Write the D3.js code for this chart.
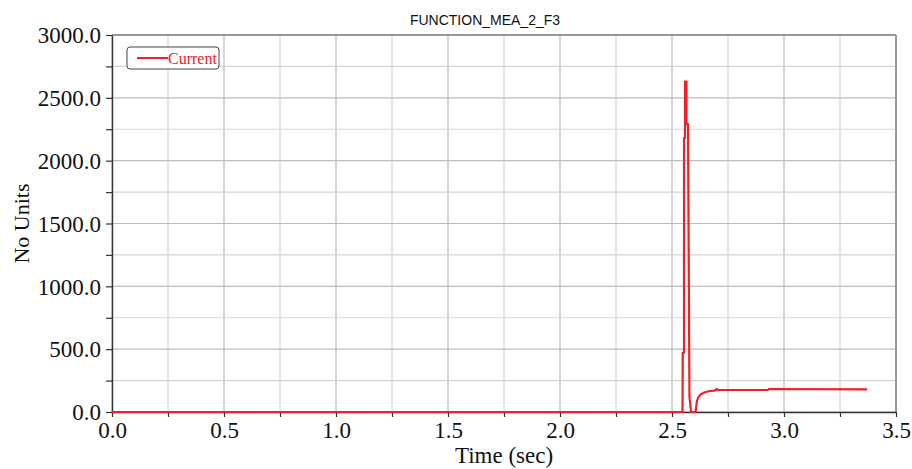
<!DOCTYPE html>
<html>
<head>
<meta charset="utf-8">
<script src="https://cdn.jsdelivr.net/npm/d3@7"></script>
<style>
body { margin: 0; background: #fff; }
svg { display: block; }
</style>
</head>
<body>
<div id="chart"></div>
<script>
// data
const timeVals = [0, 2.547, 2.548, 2.5536, 2.5537, 2.558, 2.5581, 2.5647, 2.5648, 2.5714, 2.578, 2.585, 2.605,
                  2.608, 2.6116, 2.619, 2.629, 2.647, 2.669, 2.69, 2.701, 2.703, 2.929, 2.932, 3.371];
const currentVals = [0, 0, 470, 470, 2180, 2180, 2630, 2630, 2290, 2290, 120, 0, 0,
                     40, 90, 122, 141, 157, 167, 170, 183, 175, 175, 183, 180];
const xTicks = [0, 0.5, 1.0, 1.5, 2.0, 2.5, 3.0, 3.5];
const yTicks = [0, 500, 1000, 1500, 2000, 2500, 3000];
const seriesName = "Current";
const chartTitle = "FUNCTION_MEA_2_F3";

const width = 912, height = 469;
const margin = {top: 35, right: 16, bottom: 57, left: 112};

const svg = d3.select("#chart").append("svg")
    .attr("width", width).attr("height", height);

const x = d3.scaleLinear().domain([0, 3.5]).range([margin.left, width - margin.right]);
const y = d3.scaleLinear().domain([0, 3000]).range([height - margin.bottom, margin.top]);

const serif = "'Liberation Serif', 'Times New Roman', serif";

// grid
const minorX = d3.range(0, 3.5001, 0.25);
const minorY = d3.range(0, 3000.1, 250);
svg.append("g").selectAll("line").data(minorX).enter().append("line")
    .attr("x1", d => x(d)).attr("x2", d => x(d))
    .attr("y1", y(0)).attr("y2", y(3000))
    .attr("stroke", (d, i) => i % 2 ? "#d4d4d4" : "#bdbdbd").attr("stroke-width", 1.2);
svg.append("g").selectAll("line").data(minorY).enter().append("line")
    .attr("x1", x(0)).attr("x2", x(3.5))
    .attr("y1", d => y(d)).attr("y2", d => y(d))
    .attr("stroke", (d, i) => i % 2 ? "#d4d4d4" : "#bdbdbd").attr("stroke-width", 1.2);

// frame
svg.append("line").attr("x1", x(0)).attr("x2", x(3.5)).attr("y1", y(3000)).attr("y2", y(3000))
    .attr("stroke", "#555").attr("stroke-width", 1.2);
svg.append("line").attr("x1", x(3.5)).attr("x2", x(3.5)).attr("y1", y(3000)).attr("y2", y(0))
    .attr("stroke", "#999").attr("stroke-width", 2);

// axes
const xAxis = svg.append("g").attr("transform", "translate(0," + y(0) + ")")
    .call(d3.axisBottom(x).tickValues(minorX).tickSize(5).tickSizeOuter(0)
        .tickFormat(d => xTicks.some(t => Math.abs(t - d) < 1e-9) ? d.toFixed(1) : ""));
const yAxis = svg.append("g").attr("transform", "translate(" + x(0) + ",0)")
    .call(d3.axisLeft(y).tickValues(minorY).tickSize(6).tickSizeOuter(0)
        .tickFormat(d => yTicks.includes(d) ? d.toFixed(1) : ""));
[xAxis, yAxis].forEach(a => {
    a.select(".domain").attr("stroke", "#333").attr("stroke-width", 1.4);
    a.selectAll(".tick line").attr("stroke", "#333").attr("stroke-width", 1.2);
    a.selectAll(".tick text").attr("font-family", serif).attr("font-size", "23px").attr("fill", "#111");
});
xAxis.selectAll(".tick text").attr("dy", "0.95em").attr("y", 4);
yAxis.selectAll(".tick text").attr("x", -11).attr("dy", "0.34em");

// series
const line = d3.line().x((d, i) => x(timeVals[i])).y(d => y(d));
svg.append("path").datum(currentVals)
    .attr("d", line).attr("fill", "none")
    .attr("stroke", "#ee2226").attr("stroke-width", 2.2).attr("stroke-linejoin", "round");

// titles
svg.append("text").attr("x", 485).attr("y", 25).attr("text-anchor", "middle")
    .attr("font-family", "'Liberation Sans', Arial, sans-serif").attr("font-size", "14px").attr("fill", "#111")
    .text(chartTitle);
svg.append("text").attr("x", (margin.left + width - margin.right) / 2).attr("y", 463)
    .attr("text-anchor", "middle").attr("font-family", serif).attr("font-size", "23px").attr("fill", "#111")
    .text("Time (sec)");
svg.append("text").attr("transform", "translate(29," + (y(1500)) + ") rotate(-90)")
    .attr("text-anchor", "middle").attr("font-family", serif).attr("font-size", "22px").attr("fill", "#111")
    .text("No Units");

// legend
const lg = svg.append("g").attr("transform", "translate(127,47)");
lg.append("rect").attr("width", 92).attr("height", 22).attr("rx", 3)
    .attr("fill", "#fff").attr("stroke", "#444").attr("stroke-width", 1);
lg.append("line").attr("x1", 10).attr("x2", 41).attr("y1", 11).attr("y2", 11)
    .attr("stroke", "#ee2226").attr("stroke-width", 2);
lg.append("text").attr("x", 41).attr("y", 16.5).attr("font-family", serif).attr("font-size", "16px")
    .attr("fill", "#ee2226").text(seriesName);
</script>
</body>
</html>
